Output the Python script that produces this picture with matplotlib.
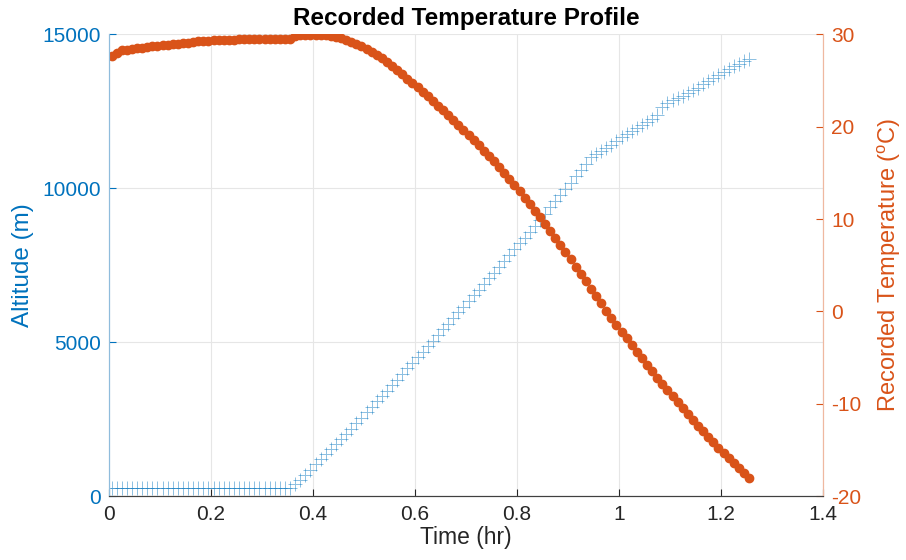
import matplotlib.pyplot as plt

plt.rcParams["font.family"] = ["Liberation Sans", "DejaVu Sans"]
plt.rcParams["mathtext.fontset"] = "custom"
plt.rcParams["mathtext.rm"] = "Liberation Sans"
plt.rcParams["axes.unicode_minus"] = False

time_hr = [
    0.005, 0.015, 0.025, 0.035, 0.045, 0.055, 0.065, 0.075, 0.085, 0.095,
    0.105, 0.115, 0.125, 0.135, 0.145, 0.155, 0.165, 0.175, 0.185, 0.195,
    0.205, 0.215, 0.225, 0.235, 0.245, 0.255, 0.265, 0.275, 0.285, 0.295,
    0.305, 0.315, 0.325, 0.335, 0.345, 0.355, 0.365, 0.375, 0.385, 0.395,
    0.405, 0.415, 0.425, 0.435, 0.445, 0.455, 0.465, 0.475, 0.485, 0.495,
    0.505, 0.515, 0.525, 0.535, 0.545, 0.555, 0.565, 0.575, 0.585, 0.595,
    0.605, 0.615, 0.625, 0.635, 0.645, 0.655, 0.665, 0.675, 0.685, 0.695,
    0.705, 0.715, 0.725, 0.735, 0.745, 0.755, 0.765, 0.775, 0.785, 0.795,
    0.805, 0.815, 0.825, 0.835, 0.845, 0.855, 0.865, 0.875, 0.885, 0.895,
    0.905, 0.915, 0.925, 0.935, 0.945, 0.955, 0.965, 0.975, 0.985, 0.995,
    1.005, 1.015, 1.025, 1.035, 1.045, 1.055, 1.065, 1.075, 1.085, 1.095,
    1.105, 1.115, 1.125, 1.135, 1.145, 1.155, 1.165, 1.175, 1.185, 1.195,
    1.205, 1.215, 1.225, 1.235, 1.245, 1.255,
]

altitude_m = [
    260, 260, 260, 260, 260, 260, 260, 260, 260, 260,
    260, 260, 260, 260, 260, 260, 260, 260, 260, 260,
    260, 260, 260, 260, 260, 260, 260, 260, 260, 260,
    260, 260, 260, 260, 260, 260, 390, 540, 700, 860,
    1040, 1200, 1360, 1520, 1690, 1860, 2030, 2200, 2380, 2550,
    2730, 2900, 3080, 3250, 3430, 3610, 3790, 3970, 4150, 4330,
    4510, 4690, 4870, 5050, 5240, 5420, 5600, 5790, 5970, 6150,
    6340, 6520, 6710, 6890, 7080, 7260, 7450, 7640, 7830, 8020,
    8210, 8400, 8590, 8790, 8980, 9180, 9380, 9580, 9780, 9980,
    10180, 10390, 10600, 10800, 11000, 11110, 11220, 11320, 11420, 11540,
    11650, 11750, 11850, 11950, 12050, 12150, 12250, 12380, 12650, 12760,
    12850, 12930, 13010, 13090, 13180, 13270, 13370, 13480, 13580, 13690,
    13780, 13870, 13960, 14040, 14120, 14200,
]

temperature_c = [
    27.6, 28.0, 28.25, 28.35, 28.45, 28.5, 28.56, 28.62, 28.68, 28.74,
    28.8, 28.86, 28.92, 28.98, 29.04, 29.1, 29.16, 29.22, 29.27, 29.32,
    29.36, 29.38, 29.4, 29.42, 29.43, 29.44, 29.45, 29.46, 29.47, 29.47,
    29.48, 29.48, 29.49, 29.49, 29.5, 29.5, 29.85, 29.9, 29.93, 29.95,
    29.95, 29.93, 29.88, 29.8, 29.7, 29.55, 29.38, 29.18, 28.95, 28.7,
    28.42, 28.1, 27.75, 27.38, 26.98, 26.56, 26.12, 25.66, 25.2, 24.73,
    24.25, 23.76, 23.27, 22.77, 22.27, 21.76, 21.24, 20.72, 20.19, 19.66,
    19.11, 18.55, 17.99, 17.42, 16.84, 16.25, 15.6, 14.97, 14.33, 13.67,
    13.0, 12.31, 11.61, 10.9, 10.18, 9.45, 8.71, 7.96, 7.2, 6.43,
    5.65, 4.86, 4.07, 3.27, 2.47, 1.67, 0.88, 0.1, -0.67, -1.43,
    -2.18, -2.92, -3.65, -4.37, -5.08, -5.78, -6.47, -7.15, -7.83, -8.5,
    -9.16, -9.82, -10.47, -11.11, -11.74, -12.36, -12.97, -13.57, -14.16, -14.74,
    -15.31, -15.87, -16.42, -16.96, -17.49, -18.0,
]

blue = "#0072BD"
orange = "#D95319"

fig = plt.figure(figsize=(9.06, 5.6), dpi=100)
ax = fig.add_axes([0.1203, 0.1138, 0.7881, 0.825])
ax2 = ax.twinx()

ax.plot(time_hr, altitude_m, linestyle="none", marker="+", markersize=10,
        markeredgewidth=0.7, color=blue, alpha=0.45)
ax2.plot(time_hr, temperature_c, linestyle="none", marker="o", markersize=6,
         color=orange)

ax.set_xlim(0, 1.4)
ax.set_ylim(0, 15000)
ax2.set_ylim(-20, 30)
ax.set_xticks([0, 0.2, 0.4, 0.6, 0.8, 1, 1.2, 1.4])
ax.set_xticklabels(["0", "0.2", "0.4", "0.6", "0.8", "1", "1.2", "1.4"])
ax.set_yticks([0, 5000, 10000, 15000])
ax2.set_yticks([-20, -10, 0, 10, 20, 30])

ax.grid(True, color="#e6e6e6", linewidth=0.8)
ax.set_axisbelow(True)

ax.tick_params(axis="x", direction="in", length=5, labelsize=15, colors="#262626", pad=6)
ax.tick_params(axis="y", direction="in", length=5, labelsize=15, colors=blue, pad=6)
ax2.tick_params(axis="y", direction="in", length=5, labelsize=15, colors=orange, pad=6)

for a in (ax, ax2):
    a.spines["top"].set_visible(False)
    a.spines["left"].set_color("#8fbcdc")
    a.spines["right"].set_color("#efb8a0")
    a.spines["bottom"].set_color("#404040")

ax.set_xlabel("Time (hr)", fontsize=16.5, color="#262626", labelpad=2)
ax.set_ylabel("Altitude (m)", fontsize=17.5, color=blue, labelpad=6)
ax2.set_ylabel("Recorded Temperature ($\\mathrm{^{o}}$C)", fontsize=17,
               color=orange, labelpad=10)
ax.set_title("Recorded Temperature Profile", fontsize=17.5, fontweight="bold",
             pad=7)

plt.savefig("out.png", dpi=100)
